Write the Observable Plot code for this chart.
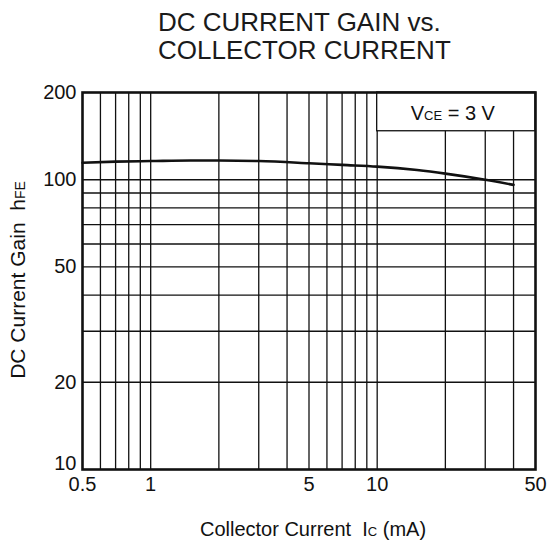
<!DOCTYPE html>
<html>
<head>
<meta charset="utf-8">
<script src="https://cdn.jsdelivr.net/npm/d3@7"></script>
<script src="https://cdn.jsdelivr.net/npm/@observablehq/plot@0.6"></script>
<style>
  html, body { margin: 0; padding: 0; background: #fff; }
  #wrap { position: relative; width: 549px; height: 541px; font-family: "Liberation Sans", Arial, sans-serif; }
  #title { position: absolute; left: 158px; top: 8px; font-size: 26px; line-height: 28px; color: #1a1a1a; }
  svg { display: block; }
</style>
</head>
<body>
<div id="wrap">
  <div id="title">DC CURRENT GAIN vs.<br>COLLECTOR CURRENT</div>
</div>
<script>
// Data
const collectorCurrent = [0.5, 0.7, 1, 1.5, 2, 3, 5, 7, 10, 15, 20, 30, 40];   // Ic (mA)
const currentGain      = [114.5, 115.5, 116, 116.5, 116.5, 116, 114, 112.5, 111, 108, 105, 100, 96]; // hFE
const xGrid = [0.6, 0.7, 0.8, 0.9, 1, 2, 3, 4, 5, 6, 7, 8, 9, 10, 20, 30, 40];
const yGrid = [20, 30, 40, 50, 60, 70, 80, 90, 100];
const xTicks = [0.5, 1, 5, 10, 50];
const yTicks = [20, 50, 100, 200];
const yTickLow = [10];
const legendBox = [{x1: 10, x2: 50, y1: 147, y2: 200}];

const curve = collectorCurrent.map((x, i) => ({x, y: currentGain[i]}));
const ink = "#111";
const font = "Liberation Sans, Arial, sans-serif";

const chart = Plot.plot({
  width: 549,
  height: 541,
  marginTop: 92,
  marginRight: 14,
  marginBottom: 72,
  marginLeft: 82,
  style: {fontFamily: font, color: ink, background: "transparent"},
  x: {type: "log", domain: [0.5, 50], axis: null},
  y: {type: "log", domain: [10, 200], axis: null},
  marks: [
    Plot.ruleX(xGrid, {stroke: ink, strokeWidth: 1.3}),
    Plot.ruleY(yGrid, {stroke: ink, strokeWidth: 1.3}),
    Plot.rect(legendBox, {x1: "x1", x2: "x2", y1: "y1", y2: "y2", fill: "white", stroke: ink, strokeWidth: 1.3}),
    Plot.line(curve, {x: "x", y: "y", stroke: ink, strokeWidth: 2.6, curve: "monotone-x"}),
    Plot.frame({stroke: ink, strokeWidth: 2.6}),
    Plot.text(xTicks, {x: d => d, frameAnchor: "bottom", dy: 15, text: d => String(d), fontSize: 20, fill: ink, lineAnchor: "middle"}),
    Plot.text(yTicks, {y: d => d, frameAnchor: "left", dx: -6, text: d => String(d), fontSize: 20, fill: ink, textAnchor: "end"}),
    Plot.text(yTickLow, {y: d => d, frameAnchor: "left", dx: -6, dy: -6, text: d => String(d), fontSize: 20, fill: ink, textAnchor: "end"})
  ]
});

document.getElementById("wrap").appendChild(chart);

const svg = d3.select(chart);
const sx = chart.scale("x"), sy = chart.scale("y");

// Legend text  VCE = 3 V
const bx = (sx.apply(10) + sx.apply(50)) / 2 - 3;
const by = (sy.apply(147) + sy.apply(200)) / 2 + 9;
const lt = svg.append("text").attr("x", bx).attr("y", by).attr("text-anchor", "middle")
  .attr("font-size", 20).attr("font-family", font).attr("fill", ink);
lt.append("tspan").text("V");
lt.append("tspan").attr("font-size", 13).text("CE");
lt.append("tspan").text(" = 3 V");

// X axis label
const xl = svg.append("text").attr("x", 313).attr("y", 536).attr("text-anchor", "middle")
  .attr("font-size", 20).attr("font-family", font).attr("fill", ink);
xl.append("tspan").text("Collector Current  I");
xl.append("tspan").attr("font-size", 13).text("C");
xl.append("tspan").text(" (mA)");

// Y axis label
const yl = svg.append("text").attr("transform", "translate(25,280) rotate(-90)").attr("text-anchor", "middle")
  .attr("font-size", 21).attr("font-family", font).attr("fill", ink);
yl.append("tspan").text("DC Current Gain  h");
yl.append("tspan").attr("font-size", 14).text("FE");
</script>
</body>
</html>
